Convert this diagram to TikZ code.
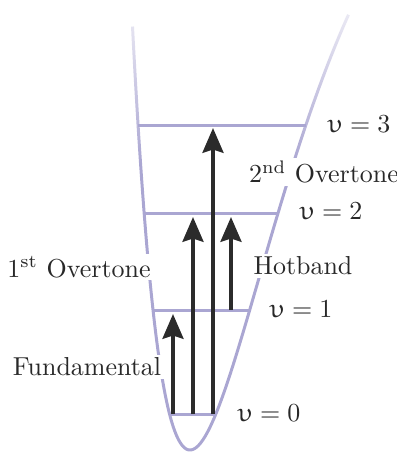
\documentclass[tikz,border=0pt]{standalone}
\usepackage[Euler]{upgreek}
\usetikzlibrary{arrows.meta,fadings}
\definecolor{lav}{RGB}{170,166,210}
\definecolor{ink}{RGB}{43,43,43}
\definecolor{txt}{RGB}{40,40,40}
\tikzfading[name=fadetop, top color=transparent!0, bottom color=transparent!100]
\begin{document}
\begin{tikzpicture}[x=0.385pt,y=-0.385pt,
  level/.style={draw=lav,line width=1.15pt},
  well/.style={draw=lav,line width=1.15pt},
  trans/.style={draw=ink,line width=1.6pt,-{Stealth[length=9.5pt,width=8pt,inset=1.2pt]}},
  lbl/.style={text=txt,inner sep=1pt},
  blbl/.style={lbl,fill=white}]
\useasboundingbox (0,0) rectangle (397,452);
% potential well (Morse-like)
\draw[well] plot[domain=-57.5:158.5,samples=160,variable=\u,smooth] ({190+\u},{450-683*(1-exp(-\u/99))^2});
% fade at the top
\fill[white,path fading=fadetop] (100,-35) rectangle (355,165);
% level end points
\coordinate (l0L) at (169.4,414); \coordinate (l0R) at (216.3,414);
\coordinate (l1L) at (152.9,310); \coordinate (l1R) at (250.0,310);
\coordinate (l2L) at (144.1,213); \coordinate (l2R) at (278.4,213);
\coordinate (l3L) at (138.0,125); \coordinate (l3R) at (306.2,125);
% levels
\draw[level] (l0L) -- (l0R);
\draw[level] (l1L) -- (l1R);
\draw[level] (l2L) -- (l2R);
\draw[level] (l3L) -- (l3R);
% transitions
\coordinate (a1s) at (173,414); \coordinate (a1e) at (173,314);
\coordinate (a2s) at (193,414); \coordinate (a2e) at (193,217);
\coordinate (a3s) at (213,414); \coordinate (a3e) at (213,128);
\coordinate (a4s) at (231,310); \coordinate (a4e) at (231,217);
\draw[trans] (a1s) -- (a1e);
\draw[trans] (a2s) -- (a2e);
\draw[trans] (a3s) -- (a3e);
\draw[trans] (a4s) -- (a4e);
% labels
\node[lbl] (v3) at (359,124) {$\upupsilon = 3$};
\node[lbl] (v2) at (331,211) {$\upupsilon = 2$};
\node[lbl] (v1) at (301,309) {$\upupsilon = 1$};
\node[lbl] (v0) at (269,413) {$\upupsilon = 0$};
\node[blbl] (ov2) at (324,172) {2\textsuperscript{nd} Overtone};
\node[blbl] (hot) at (303,266) {Hotband};
\node[blbl] (ov1) at (79,267) {1\textsuperscript{st} Overtone};
\node[blbl] (fun) at (87,367) {Fundamental};
\end{tikzpicture}
\end{document}
